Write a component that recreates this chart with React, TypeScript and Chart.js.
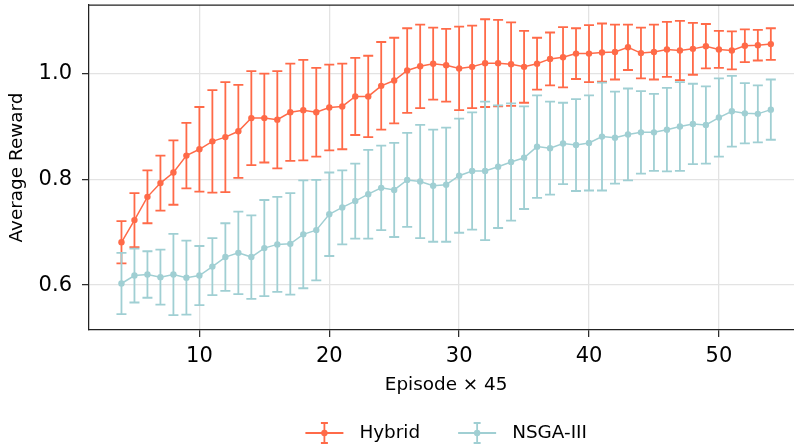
import React, { useEffect, useRef } from "react";
import { Chart, registerables } from "chart.js";

Chart.register(...registerables);

const episodes = [4, 5, 6, 7, 8, 9, 10, 11, 12, 13, 14, 15, 16, 17, 18, 19, 20, 21, 22, 23, 24, 25, 26, 27, 28, 29, 30, 31, 32, 33, 34, 35, 36, 37, 38, 39, 40, 41, 42, 43, 44, 45, 46, 47, 48, 49, 50, 51, 52, 53, 54];

const hybridMean = [0.681, 0.723, 0.767, 0.793, 0.813, 0.845, 0.857, 0.872, 0.880, 0.891, 0.916, 0.916, 0.913, 0.927, 0.931, 0.927, 0.936, 0.938, 0.957, 0.957, 0.977, 0.987, 1.006, 1.014, 1.019, 1.016, 1.010, 1.013, 1.020, 1.020, 1.018, 1.013, 1.019, 1.028, 1.031, 1.038, 1.038, 1.040, 1.041, 1.050, 1.039, 1.041, 1.046, 1.044, 1.047, 1.052, 1.046, 1.044, 1.053, 1.054, 1.056];
const hybridErr = [0.040, 0.051, 0.050, 0.052, 0.061, 0.062, 0.080, 0.097, 0.104, 0.088, 0.089, 0.084, 0.092, 0.092, 0.095, 0.084, 0.081, 0.081, 0.073, 0.077, 0.083, 0.081, 0.080, 0.079, 0.068, 0.069, 0.079, 0.078, 0.083, 0.082, 0.079, 0.068, 0.049, 0.050, 0.057, 0.048, 0.054, 0.055, 0.052, 0.043, 0.048, 0.052, 0.052, 0.056, 0.049, 0.042, 0.035, 0.036, 0.031, 0.029, 0.030];

const nsgaMean = [0.603, 0.618, 0.620, 0.615, 0.620, 0.614, 0.618, 0.635, 0.653, 0.661, 0.653, 0.670, 0.677, 0.678, 0.696, 0.704, 0.734, 0.747, 0.759, 0.772, 0.784, 0.780, 0.799, 0.796, 0.788, 0.790, 0.807, 0.816, 0.816, 0.824, 0.833, 0.841, 0.862, 0.859, 0.868, 0.865, 0.869, 0.881, 0.879, 0.885, 0.889, 0.889, 0.894, 0.900, 0.905, 0.903, 0.917, 0.929, 0.925, 0.924, 0.932];
const nsgaErr = [0.058, 0.051, 0.044, 0.052, 0.077, 0.070, 0.056, 0.054, 0.064, 0.078, 0.079, 0.091, 0.090, 0.096, 0.102, 0.095, 0.079, 0.070, 0.071, 0.084, 0.080, 0.089, 0.089, 0.107, 0.106, 0.108, 0.108, 0.111, 0.131, 0.116, 0.111, 0.097, 0.097, 0.088, 0.077, 0.087, 0.090, 0.102, 0.087, 0.087, 0.078, 0.073, 0.079, 0.084, 0.076, 0.073, 0.074, 0.067, 0.057, 0.054, 0.057];

const seriesLabels = ["Hybrid", "NSGA-III"];
const xTicks = [10, 20, 30, 40, 50];
const yTicks = [0.6, 0.8, 1.0];

const RED = "#FF6A48";
const TEAL = "#A0CFD3";
const FONT = "'DejaVu Sans', sans-serif";

export default function App() {
  const ref = useRef<HTMLCanvasElement>(null);

  useEffect(() => {
    const canvas = ref.current!;

    const errorBars = {
      id: "errorBars",
      beforeDatasetDraw(chart: any, args: any) {
        const ds: any = chart.data.datasets[args.index];
        const errs: number[] = ds.errors;
        if (!errs) return;
        const xs = chart.scales.x;
        const ys = chart.scales.y;
        const ctx = chart.ctx;
        ctx.save();
        ctx.strokeStyle = ds.borderColor;
        ctx.lineWidth = 1.8;
        ds.data.forEach((p: any, i: number) => {
          const x = xs.getPixelForValue(p.x);
          const t = ys.getPixelForValue(p.y + errs[i]);
          const b = ys.getPixelForValue(p.y - errs[i]);
          ctx.beginPath();
          ctx.moveTo(x, t);
          ctx.lineTo(x, b);
          ctx.moveTo(x - 5, t);
          ctx.lineTo(x + 5, t);
          ctx.moveTo(x - 5, b);
          ctx.lineTo(x + 5, b);
          ctx.stroke();
        });
        ctx.restore();
      },
    };

    const frameAndLegend = {
      id: "frameAndLegend",
      afterDraw(chart: any) {
        const ctx = chart.ctx;
        const a = chart.chartArea;
        ctx.save();
        ctx.strokeStyle = "#222";
        ctx.lineWidth = 1.25;
        ctx.beginPath();
        ctx.moveTo(a.left, a.top);
        ctx.lineTo(a.right, a.top);
        ctx.lineTo(a.right, a.bottom);
        ctx.stroke();

        // legend
        ctx.font = `18.4px ${FONT}`;
        const handleW = 38;
        const gapText = 16;
        const gapItem = 38;
        const items = chart.data.datasets.map((ds: any) => ({
          label: ds.label,
          color: ds.borderColor,
          w: handleW + gapText + ctx.measureText(ds.label).width,
        }));
        const total = items.reduce((s: number, it: any) => s + it.w, 0) + gapItem * (items.length - 1);
        let x = (a.left + a.right) / 2 - total / 2;
        const y = 433;
        items.forEach((it: any) => {
          const cx = x + handleW / 2;
          ctx.strokeStyle = it.color;
          ctx.fillStyle = it.color;
          ctx.lineWidth = 1.8;
          ctx.beginPath();
          ctx.moveTo(x, y);
          ctx.lineTo(x + handleW, y);
          ctx.moveTo(cx, y - 10);
          ctx.lineTo(cx, y + 10);
          ctx.moveTo(cx - 3.5, y - 10);
          ctx.lineTo(cx + 3.5, y - 10);
          ctx.moveTo(cx - 3.5, y + 10);
          ctx.lineTo(cx + 3.5, y + 10);
          ctx.stroke();
          ctx.beginPath();
          ctx.arc(cx, y, 3.2, 0, Math.PI * 2);
          ctx.fill();
          ctx.fillStyle = "#000";
          ctx.textAlign = "left";
          ctx.textBaseline = "middle";
          ctx.fillText(it.label, x + handleW + gapText, y);
          x += it.w + gapItem;
        });
        ctx.restore();
      },
    };

    const mk = (means: number[]) => episodes.map((e, i) => ({ x: e, y: means[i] }));

    const chart = new Chart(canvas, {
      type: "line",
      data: {
        datasets: [
          {
            label: seriesLabels[0],
            data: mk(hybridMean),
            errors: hybridErr,
            borderColor: RED,
            backgroundColor: RED,
            borderWidth: 1.5,
            pointRadius: 3.2,
            pointBorderWidth: 0,
            pointBackgroundColor: RED,
            order: 1,
          } as any,
          {
            label: seriesLabels[1],
            data: mk(nsgaMean),
            errors: nsgaErr,
            borderColor: TEAL,
            backgroundColor: TEAL,
            borderWidth: 1.5,
            pointRadius: 3.2,
            pointBorderWidth: 0,
            pointBackgroundColor: TEAL,
            order: 0,
          } as any,
        ],
      },
      options: {
        animation: false,
        responsive: false,
        events: [],
        layout: { padding: { top: 5, right: 6.7, left: 0, bottom: 0 } },
        plugins: {
          legend: { display: false },
          tooltip: { enabled: false },
        },
        scales: {
          x: {
            type: "linear",
            min: 1.5,
            max: 56.5,
            afterBuildTicks: (s: any) => {
              s.ticks = xTicks.map((v) => ({ value: v }));
            },
            afterFit: (s: any) => {
              s.height = 115;
              s.paddingLeft = 0;
              s.paddingRight = 0;
            },
            ticks: {
              font: { family: FONT, size: 21 },
              color: "#000",
              padding: 7,
              maxRotation: 0,
              callback: (v: any) => String(v),
            },
            grid: { color: "#e3e3e3", lineWidth: 1.3, tickColor: "#222", tickLength: 7, tickWidth: 1.2 },
            border: { color: "#222", width: 1.25 },
            title: {
              display: true,
              text: "Episode × 45",
              font: { family: FONT, size: 18.4 },
              color: "#000",
              padding: { top: 0, bottom: 49 },
            },
          },
          y: {
            type: "linear",
            min: 0.515,
            max: 1.13,
            afterBuildTicks: (s: any) => {
              s.ticks = yTicks.map((v) => ({ value: v }));
            },
            afterFit: (s: any) => {
              s.width = 89;
              s.paddingTop = 0;
              s.paddingBottom = 0;
            },
            ticks: {
              font: { family: FONT, size: 21 },
              color: "#000",
              padding: 10,
              callback: (v: any) => Number(v).toFixed(1),
            },
            grid: { color: "#e3e3e3", lineWidth: 1.3, tickColor: "#222", tickLength: 7, tickWidth: 1.2 },
            border: { color: "#222", width: 1.25 },
            title: {
              display: true,
              text: "Average Reward",
              font: { family: FONT, size: 18.4 },
              color: "#000",
              padding: { top: 5.9, bottom: 0 },
            },
          },
        },
      },
      plugins: [errorBars, frameAndLegend],
    } as any);

    return () => chart.destroy();
  }, []);

  return (
    <div style={{ position: "fixed", left: 0, top: 0, width: 810, height: 445, background: "#fff" }}>
      <canvas ref={ref} width={810} height={445} style={{ display: "block", width: 810, height: 445 }} />
    </div>
  );
}
